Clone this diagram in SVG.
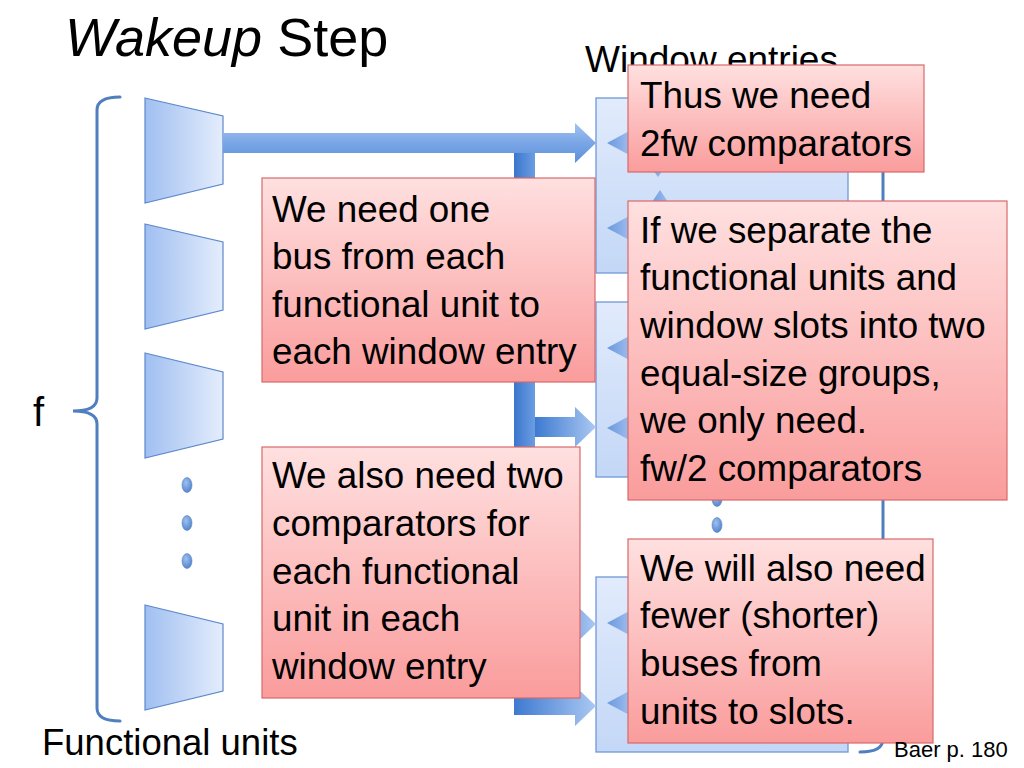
<svg xmlns="http://www.w3.org/2000/svg" width="1024" height="768" viewBox="0 0 1024 768">
<defs>
<style>
.t{font-family:"Liberation Sans",Arial,sans-serif;fill:#000}
.nt{font-size:36.8px}
.note{fill:url(#gNote);stroke:#d7696b;stroke-width:1.2}
.fu{fill:url(#gFU);stroke:#5c88cc;stroke-width:1.2}
.win{fill:url(#gWin);stroke:#6f98d8;stroke-width:1.3}
.cmp{fill:url(#gCmp)}
.dot{fill:url(#gDot);stroke:#5a86c8;stroke-width:0.6}
.brace{fill:none;stroke:#4f7fbf;stroke-width:3;stroke-linecap:round}
</style>
<linearGradient id="gFU" x1="0" y1="0" x2="1" y2="0"><stop offset="0" stop-color="#a0bff1"/><stop offset="1" stop-color="#e4edfc"/></linearGradient>
<linearGradient id="gWin" x1="0" y1="0" x2="0" y2="1"><stop offset="0" stop-color="#e1ebfc"/><stop offset="1" stop-color="#c3d7f6"/></linearGradient>
<linearGradient id="gNote" x1="0" y1="0" x2="0" y2="1"><stop offset="0" stop-color="#ffe0e0"/><stop offset="1" stop-color="#fa9c9c"/></linearGradient>
<linearGradient id="gBusH" x1="0" y1="0" x2="0" y2="1"><stop offset="0" stop-color="#a2c3f2"/><stop offset="0.5" stop-color="#7aa6e6"/><stop offset="1" stop-color="#5b8fd8"/></linearGradient>
<linearGradient id="gBusV" x1="0" y1="0" x2="1" y2="0"><stop offset="0" stop-color="#3b76ce"/><stop offset="1" stop-color="#6b9de2"/></linearGradient>
<linearGradient id="gBranch" x1="0" y1="0" x2="1" y2="0"><stop offset="0" stop-color="#3d7ad0"/><stop offset="1" stop-color="#abc8f2"/></linearGradient>
<linearGradient id="gCmp" x1="0" y1="0" x2="1" y2="0"><stop offset="0" stop-color="#6a98de"/><stop offset="1" stop-color="#a4c2f0"/></linearGradient>
<radialGradient id="gDot" cx="0.4" cy="0.35" r="0.7"><stop offset="0" stop-color="#9fc0f0"/><stop offset="1" stop-color="#4f81c9"/></radialGradient>
</defs>

<text class="t" x="65" y="56" font-size="54"><tspan font-style="italic">Wakeup</tspan> Step</text>

<g id="left-brace"><path class="brace" d="M120,97 Q97,97 97,110 V398 Q97,411 73,411 Q97,411 97,424 V708 Q97,721 120,721"/></g>
<text id="label-f" class="t" x="33" y="426" font-size="40">f</text>

<g id="fu1"><polygon class="fu" points="145,98 223,116 223,184 145,203"/></g>
<g id="fu2"><polygon class="fu" points="145,224 223,242 223,310 145,329"/></g>
<g id="fu3"><polygon class="fu" points="145,353 223,372 223,439 145,458"/></g>
<g id="fu-dots">
<ellipse class="dot" cx="187" cy="485" rx="5" ry="7.5"/>
<ellipse class="dot" cx="187" cy="523" rx="5" ry="7.5"/>
<ellipse class="dot" cx="187" cy="561" rx="5" ry="7.5"/>
</g>
<g id="fu4"><polygon class="fu" points="145,605 223,624 223,691 145,710"/></g>
<text id="label-fu" class="t" x="42" y="755" font-size="36.5">Functional units</text>

<text id="label-win" class="t" x="585" y="72" font-size="37">Window  entries</text>

<g id="right-brace"><path class="brace" d="M860,97 Q883,97 883,110 V412 Q883,425 906,425 Q883,425 883,438 V739 Q883,752 860,752"/></g>

<g id="win1"><rect class="win" x="596" y="98" width="252" height="175"/>
<polygon class="cmp" points="607,143 633,129 633,157"/>
<polygon class="cmp" points="607,228 633,214 633,242"/>
<polygon class="cmp" points="646,160 670,160 658,177"/>
<polygon class="cmp" points="648,208 672,208 660,190"/>
</g>
<g id="win2"><rect class="win" x="596" y="302" width="252" height="175"/>
<polygon class="cmp" points="607,348 633,334 633,362"/>
<polygon class="cmp" points="607,428 633,414 633,442"/>
</g>
<g id="win-dots">
<ellipse class="dot" cx="717" cy="474" rx="5" ry="7.5"/>
<ellipse class="dot" cx="717" cy="499" rx="5" ry="7.5"/>
<ellipse class="dot" cx="717" cy="525" rx="5" ry="7.5"/>
</g>
<g id="win3"><rect class="win" x="596" y="577" width="252" height="175"/>
<polygon class="cmp" points="607,623 633,609 633,637"/>
<polygon class="cmp" points="607,703 633,689 633,717"/>
</g>

<g id="connectors">
<rect x="514" y="150" width="21" height="565" fill="url(#gBusV)"/>
<path d="M223,133 H575 V123 L596,143 L575,163 V153 H223 Z" fill="url(#gBusH)"/>
<path d="M535,417 H575 V407 L596,427 L575,447 V437 H535 Z" fill="url(#gBranch)"/>
<path d="M535,614 H575 V604 L596,624 L575,644 V634 H535 Z" fill="url(#gBranch)"/>
<path d="M514,697 H575 V686 L596,706 L575,726 V715 H514 Z" fill="url(#gBranch)"/>
</g>

<g id="note-one-bus"><rect class="note" x="262" y="178" width="333" height="204"/>
<text class="t nt"><tspan x="272" y="222">We need one</tspan><tspan x="272" y="269">bus from each</tspan><tspan x="272" y="317">functional unit to</tspan><tspan x="272" y="364">each window entry</tspan></text></g>

<g id="note-two-comp"><rect class="note" x="262" y="447" width="318" height="251"/>
<text class="t nt"><tspan x="272" y="488">We also need two</tspan><tspan x="272" y="536">comparators for</tspan><tspan x="272" y="584">each functional</tspan><tspan x="272" y="631">unit in each</tspan><tspan x="272" y="679">window entry</tspan></text></g>

<g id="note-2fw"><rect class="note" x="628" y="65" width="296" height="107"/>
<text class="t nt"><tspan x="640" y="108">Thus we need</tspan><tspan x="640" y="156">2fw comparators</tspan></text></g>

<g id="note-separate"><rect class="note" x="628" y="201" width="379" height="299"/>
<text class="t nt"><tspan x="640" y="243">If we separate the</tspan><tspan x="640" y="290">functional units and</tspan><tspan x="640" y="338">window slots into two</tspan><tspan x="640" y="386">equal-size groups,</tspan><tspan x="640" y="433">we only need.</tspan><tspan x="640" y="481">fw/2 comparators</tspan></text></g>

<g id="note-fewer"><rect class="note" x="628" y="539" width="305" height="204"/>
<text class="t nt"><tspan x="640" y="581">We will also need</tspan><tspan x="640" y="628">fewer (shorter)</tspan><tspan x="640" y="676">buses from</tspan><tspan x="640" y="724">units to slots.</tspan></text></g>

<text id="baer" class="t" x="894" y="757" font-size="22">Baer p. 180</text>
</svg>
